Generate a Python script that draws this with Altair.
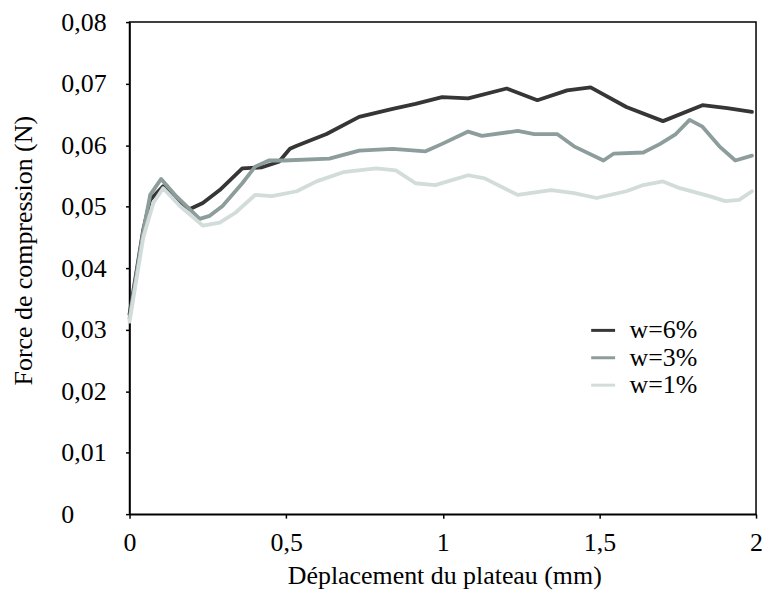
import altair as alt
import pandas as pd

# w=6%
x6 = [0.0, 0.044, 0.066, 0.107, 0.149, 0.193, 0.234, 0.288, 0.360, 0.423, 0.477, 0.512, 0.534,
      0.629, 0.733, 0.840, 0.913, 0.998, 1.081, 1.204, 1.302, 1.397, 1.472, 1.586, 1.703,
      1.829, 1.908, 1.987]
y6 = [0.0325, 0.0463, 0.0511, 0.0533, 0.0509, 0.0496, 0.0506, 0.0527, 0.0562, 0.0564, 0.0573,
      0.0594, 0.0599, 0.0618, 0.0646, 0.0659, 0.0667, 0.0678, 0.0676, 0.0692, 0.0673, 0.0689,
      0.0694, 0.0662, 0.0639, 0.0665, 0.0660, 0.0654]
# w=3%
x3 = [0.0, 0.044, 0.066, 0.101, 0.149, 0.224, 0.256, 0.297, 0.360, 0.401, 0.445, 0.493, 0.638,
      0.733, 0.840, 0.945, 0.998, 1.081, 1.125, 1.239, 1.292, 1.365, 1.419, 1.513, 1.545,
      1.640, 1.694, 1.744, 1.788, 1.829, 1.883, 1.934, 1.987]
y3 = [0.0318, 0.0460, 0.0519, 0.0545, 0.0517, 0.0480, 0.0485, 0.0501, 0.0538, 0.0565, 0.0575,
      0.0575, 0.0578, 0.0591, 0.0594, 0.0590, 0.0602, 0.0622, 0.0615, 0.0623, 0.0618, 0.0618,
      0.0598, 0.0575, 0.0586, 0.0588, 0.0602, 0.0618, 0.0641, 0.0630, 0.0598, 0.0575, 0.0583]
# w=1%
x1 = [0.0, 0.044, 0.076, 0.107, 0.161, 0.234, 0.288, 0.338, 0.401, 0.455, 0.534, 0.597, 0.682,
      0.787, 0.850, 0.913, 0.976, 1.081, 1.134, 1.239, 1.346, 1.419, 1.491, 1.586, 1.640,
      1.703, 1.757, 1.851, 1.902, 1.946, 1.987]
y1 = [0.0313, 0.0450, 0.0506, 0.0530, 0.0501, 0.0469, 0.0474, 0.0490, 0.0519, 0.0517, 0.0525,
      0.0541, 0.0556, 0.0562, 0.0559, 0.0538, 0.0535, 0.0551, 0.0546, 0.0519, 0.0527, 0.0522,
      0.0514, 0.0525, 0.0535, 0.0541, 0.0530, 0.0517, 0.0509, 0.0511, 0.0525]

series = ["w=6%", "w=3%", "w=1%"]
colors = ["#363636", "#8c9d9c", "#d2dcda"]
x_ticks = [0, 0.5, 1, 1.5, 2]
y_ticks = [0, 0.01, 0.02, 0.03, 0.04, 0.05, 0.06, 0.07, 0.08]

rows = []
for name, xs, ys in zip(series, [x6, x3, x1], [y6, y3, y1]):
    for i, (a, b) in enumerate(zip(xs, ys)):
        rows.append({"x": a, "y": b, "serie": name, "i": i})
df = pd.DataFrame(rows)

FONT = "Liberation Serif"
FS = 26

chart = alt.Chart(df).mark_line(strokeWidth=3.8, strokeJoin="round", strokeCap="round").encode(
    x=alt.X("x:Q", scale=alt.Scale(domain=[0, 2], nice=False),
            axis=alt.Axis(values=x_ticks, title="Déplacement du plateau (mm)",
                          labelExpr="replace(toString(datum.value), '.', ',')",
                          grid=False, tickSize=4, labelPadding=12, labelFlush=False,
                          titleX=316, titleY=62, titleBaseline="middle", titleAlign="center")),
    y=alt.Y("y:Q", scale=alt.Scale(domain=[0, 0.08], nice=False),
            axis=alt.Axis(values=y_ticks, title="Force de compression (N)",
                          labelExpr="replace(toString(datum.value), '.', ',')",
                          grid=False, tickSize=4, labelAlign="left", labelPadding=65,
                          labelFlush=False,
                          titleX=-106, titleY=229, titleAngle=270, titleBaseline="middle",
                          titleAlign="center")),
    color=alt.Color("serie:N", scale=alt.Scale(domain=series, range=colors),
                    legend=alt.Legend(title=None, orient="none", legendX=462, legendY=296,
                                      symbolType="stroke", symbolSize=576, symbolStrokeWidth=3,
                                      labelFont=FONT, labelFontSize=FS, labelColor="#000",
                                      rowPadding=0.5, labelOffset=13)),
    detail="serie:N",
    order="i:Q",
).properties(
    width=629, height=494,
    padding={"left": 122, "top": 13, "right": 7, "bottom": 76},
    autosize=alt.AutoSizeParams(type="none"),
).configure_axis(
    labelFont=FONT, labelFontSize=FS, labelColor="#000",
    titleFont=FONT, titleFontSize=FS, titleColor="#000", titleFontWeight="normal",
    domainColor="#000", domainWidth=1.5, tickColor="#000", tickWidth=1.5,
).configure_view(
    stroke="#000", strokeWidth=1.5,
)

chart.save("out.html", embed_options={"renderer": "svg", "actions": False})
